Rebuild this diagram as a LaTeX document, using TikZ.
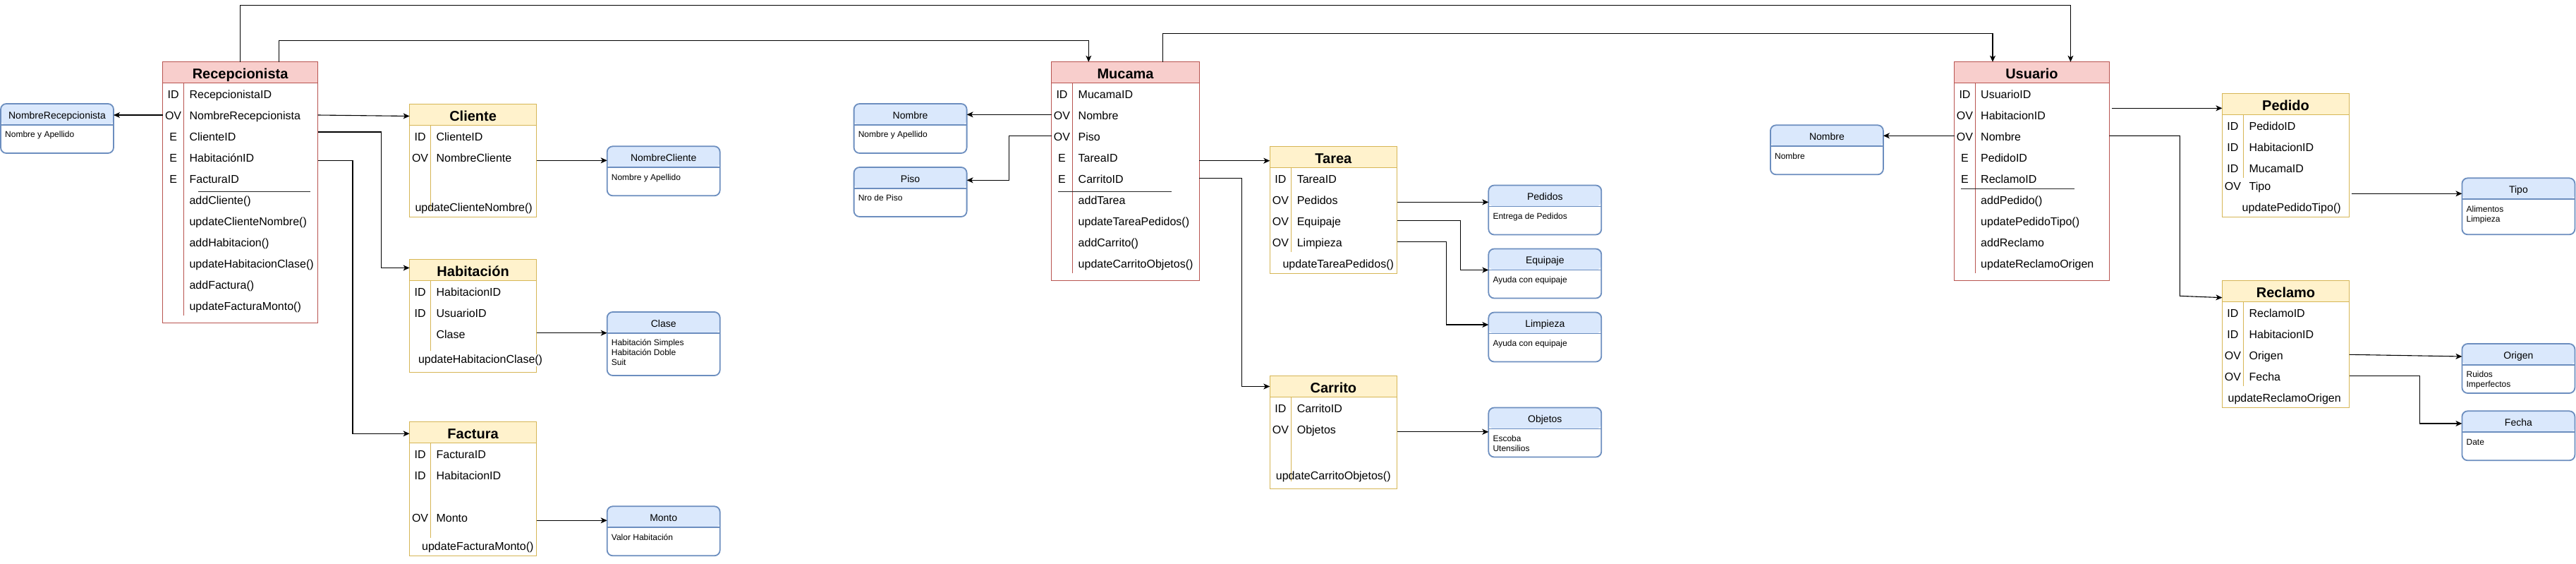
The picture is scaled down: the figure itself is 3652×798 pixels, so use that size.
\documentclass[tikz,border=0pt]{standalone}
\usepackage{fontspec}
\setmainfont{Liberation Sans}
\usetikzlibrary{arrows.meta}
\definecolor{redF}{HTML}{F8CECC}
\definecolor{redS}{HTML}{B85450}
\definecolor{yelF}{HTML}{FFF2CC}
\definecolor{yelS}{HTML}{D6B656}
\definecolor{blueF}{HTML}{DAE8FC}
\definecolor{blueS}{HTML}{6C8EBF}
\newcommand{\rowfont}{\fontsize{16}{19}\selectfont}
\newcommand{\myrow}[6]{\node[keyt] (#1k) at (#2,#4+6) {#5};\node[rowt] (#1) at (#3,#4+6) {#6};}
\newcommand{\mymeth}[4]{\node[rowt] (#1) at (#2,#3+6) {#4};}
\tikzset{
  tblbox/.style={draw=#1, fill=white, line width=1pt, inner sep=0, outer sep=0, anchor=north west},
  tblhead/.style={draw=#1, fill=#1!0, line width=1pt, inner sep=0, outer sep=0, anchor=north west, minimum height=30pt},
  titlet/.style={anchor=base, inner sep=0, font=\fontsize{20}{24}\selectfont\bfseries},
  keyt/.style={anchor=base, font=\rowfont, inner sep=0},
  rowt/.style={anchor=base west, font=\rowfont, inner sep=0},
  divline/.style={draw=#1, line width=1pt},
  sepline/.style={draw=black!85, line width=1pt},
  bluebox/.style={draw=blueS, line width=1.8pt, rounded corners=8pt, fill=white,
    minimum width=160pt, minimum height=#1, inner sep=0, outer sep=0, anchor=north west,
    path picture={\fill[blueF] (path picture bounding box.north west) rectangle ([yshift=-30pt]path picture bounding box.north east);
      \draw[blueS, line width=1.8pt] ([yshift=-30pt]path picture bounding box.north west) -- ([yshift=-30pt]path picture bounding box.north east);}},
  bhead/.style={anchor=base, inner sep=0, font=\fontsize{14}{17}\selectfont},
  bbody/.style={anchor=base west, inner sep=0, font=\fontsize{12}{14}\selectfont},
  conn/.style={draw=black, line width=1.1pt, -{Stealth[length=9pt,width=8pt,inset=2.5pt]}},
}
\begin{document}
\begin{tikzpicture}[x=1pt,y=-1pt]
\fill[white] (0,0) rectangle (3652,798);
\useasboundingbox (0,0) rectangle (3652,798);

% ================= Recepcionista =================
\node[tblbox=redS, minimum width=220pt, minimum height=369.6pt] (recep) at (230.6,87.7) {};
\node[tblhead=redS, fill=redF, minimum width=220pt] (recepH) at (recep.north west) {};
\node[titlet] (recepT) at ([yshift=-23.3pt]recep.north) {Recepcionista};
\draw[divline=redS] (260.7,117.3) -- (260.7,447.3);
\myrow{rec1}{245.6}{268.4}{133}{ID}{RecepcionistaID}
\myrow{rec2}{245.6}{268.4}{163}{OV}{NombreRecepcionista}
\myrow{rec3}{245.6}{268.4}{193}{E}{ClienteID}
\myrow{rec4}{245.6}{268.4}{223}{E}{HabitaciónID}
\myrow{rec5}{245.6}{268.4}{253}{E}{FacturaID}
\draw[sepline] (280.6,271.7) -- (440.3,271.7);
\mymeth{recm1}{268.4}{283}{addCliente()}
\mymeth{recm2}{268.4}{313}{updateClienteNombre()}
\mymeth{recm3}{268.4}{343}{addHabitacion()}
\mymeth{recm4}{268.4}{373}{updateHabitacionClase()}
\mymeth{recm5}{268.4}{403.5}{addFactura()}
\mymeth{recm6}{268.4}{433}{updateFacturaMonto()}

% ================= Cliente =================
\node[tblbox=yelS, minimum width=180pt, minimum height=159.7pt] (cliente) at (580.6,147.3) {};
\node[tblhead=yelS, fill=yelF, minimum width=180pt] (clienteH) at (cliente.north west) {};
\node[titlet] (clienteT) at ([yshift=-23.7pt]cliente.north) {Cliente};
\draw[divline=yelS] (610.7,177.3) -- (610.7,297);
\myrow{cli1}{595.6}{618.4}{193}{ID}{ClienteID}
\myrow{cli2}{595.6}{618.4}{223}{OV}{NombreCliente}
\mymeth{clim1}{588.3}{293}{updateClienteNombre()}

% ================= Habitacion =================
\node[tblbox=yelS, minimum width=180pt, minimum height=160pt] (habitacion) at (580.6,367.3) {};
\node[tblhead=yelS, fill=yelF, minimum width=180pt] (habitacionH) at (habitacion.north west) {};
\node[titlet] (habitacionT) at ([yshift=-23.7pt]habitacion.north) {Habitación};
\draw[divline=yelS] (610.7,397.3) -- (610.7,497);
\myrow{hab1}{595.6}{618.4}{413.3}{ID}{HabitacionID}
\myrow{hab2}{595.6}{618.4}{443.3}{ID}{UsuarioID}
\myrow{hab3}{595.6}{618.4}{473.3}{}{Clase}
\node[rowt, fill=white, inner sep=1pt] (habm1) at (591.8,514.3) {updateHabitacionClase()};

% ================= Factura =================
\node[tblbox=yelS, minimum width=180pt, minimum height=189.7pt] (factura) at (580.6,597.3) {};
\node[tblhead=yelS, fill=yelF, minimum width=180pt] (facturaH) at (factura.north west) {};
\node[titlet] (facturaT) at ([yshift=-23.7pt]factura.north) {Factura};
\draw[divline=yelS] (610.7,627.3) -- (610.7,762);
\myrow{fac1}{595.6}{618.4}{643.3}{ID}{FacturaID}
\myrow{fac2}{595.6}{618.4}{673.3}{ID}{HabitacionID}
\myrow{fac3}{595.6}{618.4}{733.3}{OV}{Monto}
\node[rowt, fill=white, inner sep=1pt] (facm1) at (597,779.3) {updateFacturaMonto()};

% ================= Mucama =================
\node[tblbox=redS, minimum width=209.7pt, minimum height=309.6pt] (mucama) at (1490.7,87.7) {};
\node[tblhead=redS, fill=redF, minimum width=209.7pt] (mucamaH) at (mucama.north west) {};
\node[titlet] (mucamaT) at ([yshift=-23.3pt]mucama.north) {Mucama};
\draw[divline=redS] (1520.3,117.3) -- (1520.3,387);
\myrow{muc1}{1505.5}{1528.5}{133}{ID}{MucamaID}
\myrow{muc2}{1505.5}{1528.5}{163}{OV}{Nombre}
\myrow{muc3}{1505.5}{1528.5}{193}{OV}{Piso}
\myrow{muc4}{1505.5}{1528.5}{223}{E}{TareaID}
\myrow{muc5}{1505.5}{1528.5}{253}{E}{CarritoID}
\draw[sepline] (1500,271.7) -- (1660.7,271.7);
\mymeth{mucm1}{1528.5}{283}{addTarea}
\mymeth{mucm2}{1528.5}{313}{updateTareaPedidos()}
\mymeth{mucm3}{1528.5}{343}{addCarrito()}
\mymeth{mucm4}{1528.5}{373}{updateCarritoObjetos()}

% ================= Tarea =================
\node[tblbox=yelS, minimum width=180.2pt, minimum height=179.6pt] (tarea) at (1800.3,207.5) {};
\node[tblhead=yelS, fill=yelF, minimum width=180.2pt] (tareaH) at (tarea.north west) {};
\node[titlet] (tareaT) at ([yshift=-23.7pt]tarea.north) {Tarea};
\draw[divline=yelS] (1830.5,237.5) -- (1830.5,357);
\myrow{tar1}{1815.4}{1838.6}{253.2}{ID}{TareaID}
\myrow{tar2}{1815.4}{1838.6}{283.4}{OV}{Pedidos}
\myrow{tar3}{1815.4}{1838.6}{313.2}{OV}{Equipaje}
\myrow{tar4}{1815.4}{1838.6}{343.2}{OV}{Limpieza}
\mymeth{tarm1}{1818.3}{373.2}{updateTareaPedidos()}

% ================= Carrito =================
\node[tblbox=yelS, minimum width=180.2pt, minimum height=159.6pt] (carrito) at (1800.3,532.5) {};
\node[tblhead=yelS, fill=yelF, minimum width=180.2pt] (carritoH) at (carrito.north west) {};
\node[titlet] (carritoT) at ([yshift=-23.7pt]carrito.north) {Carrito};
\draw[divline=yelS] (1830.5,562.5) -- (1830.5,682);
\myrow{car1}{1815.4}{1838.6}{578.2}{ID}{CarritoID}
\myrow{car2}{1815.4}{1838.6}{608.2}{OV}{Objetos}
\mymeth{carm1}{1808.7}{673.9}{updateCarritoObjetos()}

% ================= Usuario =================
\node[tblbox=redS, minimum width=219.7pt, minimum height=309.6pt] (usuario) at (2770.6,87.7) {};
\node[tblhead=redS, fill=redF, minimum width=219.7pt] (usuarioH) at (usuario.north west) {};
\node[titlet] (usuarioT) at ([yshift=-23.3pt]usuario.north) {Usuario};
\draw[divline=redS] (2800.5,117.3) -- (2800.5,387);
\myrow{usu1}{2785.5}{2808}{133}{ID}{UsuarioID}
\myrow{usu2}{2785.5}{2808}{163}{OV}{HabitacionID}
\myrow{usu3}{2785.5}{2808}{193}{OV}{Nombre}
\myrow{usu4}{2785.5}{2808}{223}{E}{PedidoID}
\myrow{usu5}{2785.5}{2808}{253}{E}{ReclamoID}
\draw[sepline] (2780.4,267.7) -- (2940.7,267.7);
\mymeth{usum1}{2808}{283}{addPedido()}
\mymeth{usum2}{2808}{313}{updatePedidoTipo()}
\mymeth{usum3}{2808}{343}{addReclamo}
\mymeth{usum4}{2808}{373}{updateReclamoOrigen}

% ================= Pedido =================
\node[tblbox=yelS, minimum width=180.2pt, minimum height=175pt] (pedido) at (3150.4,132.3) {};
\node[tblhead=yelS, fill=yelF, minimum width=180.2pt] (pedidoH) at (pedido.north west) {};
\node[titlet] (pedidoT) at ([yshift=-23.7pt]pedido.north) {Pedido};
\draw[divline=yelS] (3180.3,162.3) -- (3180.3,251.7);
\myrow{ped1}{3165.4}{3188.4}{178.3}{ID}{PedidoID}
\myrow{ped2}{3165.4}{3188.4}{208.3}{ID}{HabitacionID}
\myrow{ped3}{3165.4}{3188.4}{238.3}{ID}{MucamaID}
\myrow{ped4}{3165.4}{3188.4}{263.3}{OV}{Tipo}
\mymeth{pedm1}{3178.5}{293.3}{updatePedidoTipo()}

% ================= Reclamo =================
\node[tblbox=yelS, minimum width=180.2pt, minimum height=179.7pt] (reclamo) at (3150.4,397.3) {};
\node[tblhead=yelS, fill=yelF, minimum width=180.2pt] (reclamoH) at (reclamo.north west) {};
\node[titlet] (reclamoT) at ([yshift=-23.7pt]reclamo.north) {Reclamo};
\draw[divline=yelS] (3180.3,427.3) -- (3180.3,547.3);
\myrow{rcl1}{3165.4}{3188.4}{443.3}{ID}{ReclamoID}
\myrow{rcl2}{3165.4}{3188.4}{473.3}{ID}{HabitacionID}
\myrow{rcl3}{3165.4}{3188.4}{503.3}{OV}{Origen}
\myrow{rcl4}{3165.4}{3188.4}{533.3}{OV}{Fecha}
\mymeth{rclm1}{3158.4}{563.3}{updateReclamoOrigen}

% ================= Value boxes =================
\node[bluebox=70pt] (nomrec) at (1,147) {};
\node[bhead] (nomrecH) at ([yshift=-21.3pt]nomrec.north) {NombreRecepcionista};
\node[bbody] (nomrecB) at ([xshift=6pt,yshift=-47.7pt]nomrec.north west) {Nombre y Apellido};

\node[bluebox=70pt] (nomcli) at (860.7,207.3) {};
\node[bhead] (nomcliH) at ([yshift=-21.3pt]nomcli.north) {NombreCliente};
\node[bbody] (nomcliB) at ([xshift=6pt,yshift=-47.7pt]nomcli.north west) {Nombre y Apellido};

\node[bluebox=90pt] (clase) at (860.7,442) {};
\node[bhead] (claseH) at ([yshift=-21.3pt]clase.north) {Clase};
\node[bbody] (claseB1) at ([xshift=6pt,yshift=-47.7pt]clase.north west) {Habitación Simples};
\node[bbody] (claseB2) at ([xshift=6pt,yshift=-61.7pt]clase.north west) {Habitación Doble};
\node[bbody] (claseB3) at ([xshift=6pt,yshift=-75.7pt]clase.north west) {Suit};

\node[bluebox=70pt] (monto) at (860.7,717.3) {};
\node[bhead] (montoH) at ([yshift=-21.3pt]monto.north) {Monto};
\node[bbody] (montoB) at ([xshift=6pt,yshift=-47.7pt]monto.north west) {Valor Habitación};

\node[bluebox=70pt] (nomm) at (1210.6,147) {};
\node[bhead] (nommH) at ([yshift=-21.3pt]nomm.north) {Nombre};
\node[bbody] (nommB) at ([xshift=6pt,yshift=-47.7pt]nomm.north west) {Nombre y Apellido};

\node[bluebox=70pt] (piso) at (1210.6,237) {};
\node[bhead] (pisoH) at ([yshift=-21.3pt]piso.north) {Piso};
\node[bbody] (pisoB) at ([xshift=6pt,yshift=-47.7pt]piso.north west) {Nro de Piso};

\node[bluebox=70pt] (pedidos) at (2110.3,262.5) {};
\node[bhead] (pedidosH) at ([yshift=-21.3pt]pedidos.north) {Pedidos};
\node[bbody] (pedidosB) at ([xshift=6pt,yshift=-47.7pt]pedidos.north west) {Entrega de Pedidos};

\node[bluebox=70pt] (equipaje) at (2110.3,352.5) {};
\node[bhead] (equipajeH) at ([yshift=-21.3pt]equipaje.north) {Equipaje};
\node[bbody] (equipajeB) at ([xshift=6pt,yshift=-47.7pt]equipaje.north west) {Ayuda con equipaje};

\node[bluebox=70pt] (limpieza) at (2110.3,442.5) {};
\node[bhead] (limpiezaH) at ([yshift=-21.3pt]limpieza.north) {Limpieza};
\node[bbody] (limpiezaB) at ([xshift=6pt,yshift=-47.7pt]limpieza.north west) {Ayuda con equipaje};

\node[bluebox=70pt] (objetos) at (2110.3,577.5) {};
\node[bhead] (objetosH) at ([yshift=-21.3pt]objetos.north) {Objetos};
\node[bbody] (objetosB1) at ([xshift=6pt,yshift=-47.7pt]objetos.north west) {Escoba};
\node[bbody] (objetosB2) at ([xshift=6pt,yshift=-61.7pt]objetos.north west) {Utensilios};

\node[bluebox=70pt] (nomu) at (2509.9,177.3) {};
\node[bhead] (nomuH) at ([yshift=-21.3pt]nomu.north) {Nombre};
\node[bbody] (nomuB) at ([xshift=6pt,yshift=-47.7pt]nomu.north west) {Nombre};

\node[bluebox=80pt] (tipo) at (3490.4,252.3) {};
\node[bhead] (tipoH) at ([yshift=-21.3pt]tipo.north) {Tipo};
\node[bbody] (tipoB1) at ([xshift=6pt,yshift=-47.7pt]tipo.north west) {Alimentos};
\node[bbody] (tipoB2) at ([xshift=6pt,yshift=-61.7pt]tipo.north west) {Limpieza};

\node[bluebox=70pt] (origen) at (3490.4,487) {};
\node[bhead] (origenH) at ([yshift=-21.3pt]origen.north) {Origen};
\node[bbody] (origenB1) at ([xshift=6pt,yshift=-47.7pt]origen.north west) {Ruidos};
\node[bbody] (origenB2) at ([xshift=6pt,yshift=-61.7pt]origen.north west) {Imperfectos};

\node[bluebox=70pt] (fecha) at (3490.4,582.3) {};
\node[bhead] (fechaH) at ([yshift=-21.3pt]fecha.north) {Fecha};
\node[bbody] (fechaB) at ([xshift=6pt,yshift=-47.7pt]fecha.north west) {Date};

% ================= Connectors =================
\draw[conn] (recep.north -| 340.3,0) |- (2935.4,7.3) -- (usuario.north -| 2935.4,0);
\draw[conn] (recep.north -| 395.4,0) |- (1543.3,57.3) -- (mucama.north -| 1543.3,0);
\draw[conn] (mucama.north -| 1648.4,0) |- (2825,47.3) -- (usuario.north -| 2825,0);
\draw[conn] (recep.west |- 0,163) -- (nomrec.east |- 0,163);
\draw[conn] (recep.east |- 0,163) -- (cliente.west |- 0,164.5);
\draw[conn] (recep.east |- 0,187) -| (540.3,379.5) -- (habitacion.west |- 0,379.5);
\draw[conn] (recep.east |- 0,227.7) -| (500,614.3) -- (factura.west |- 0,614.3);
\draw[conn] (cliente.east |- 0,227.3) -- (nomcli.west |- 0,227.3);
\draw[conn] (habitacion.east |- 0,471.7) -- (clase.west |- 0,471.7);
\draw[conn] (factura.east |- 0,737.3) -- (monto.west |- 0,737.3);
\draw[conn] (mucama.west |- 0,162.3) -- (nomm.east |- 0,162.3);
\draw[conn] (mucama.west |- 0,192.3) -| (1430.5,255.3) -- (piso.east |- 0,255.3);
\draw[conn] (mucama.east |- 0,227.7) -- (tarea.west |- 0,227.7);
\draw[conn] (mucama.east |- 0,252.3) -| (1760.1,547.5) -- (carrito.west |- 0,547.5);
\draw[conn] (tarea.east |- 0,286.4) -- (pedidos.west |- 0,286.4);
\draw[conn] (tarea.east |- 0,312.5) -| (2070.5,382.5) -- (equipaje.west |- 0,382.5);
\draw[conn] (tarea.east |- 0,342.5) -| (2050.6,460) -- (limpieza.west |- 0,460);
\draw[conn] (carrito.east |- 0,611.8) -- (objetos.west |- 0,611.8);
\draw[conn] (usuario.west |- 0,192.3) -- (nomu.east |- 0,192.3);
\draw[conn] ([xshift=4pt]usuario.east |- 0,153.3) -- (pedido.west |- 0,153.3);
\draw[conn] (usuario.east |- 0,192.3) -| (3090.3,419.3) -- (reclamo.west |- 0,421.7);
\draw[conn] ([xshift=3pt]pedido.east |- 0,274.3) -- (tipo.west |- 0,274.3);
\draw[conn] (reclamo.east |- 0,502.3) -- (origen.west |- 0,505);
\draw[conn] (reclamo.east |- 0,532.3) -| (3430.2,600) -- (fecha.west |- 0,600);
\end{tikzpicture}
\end{document}
